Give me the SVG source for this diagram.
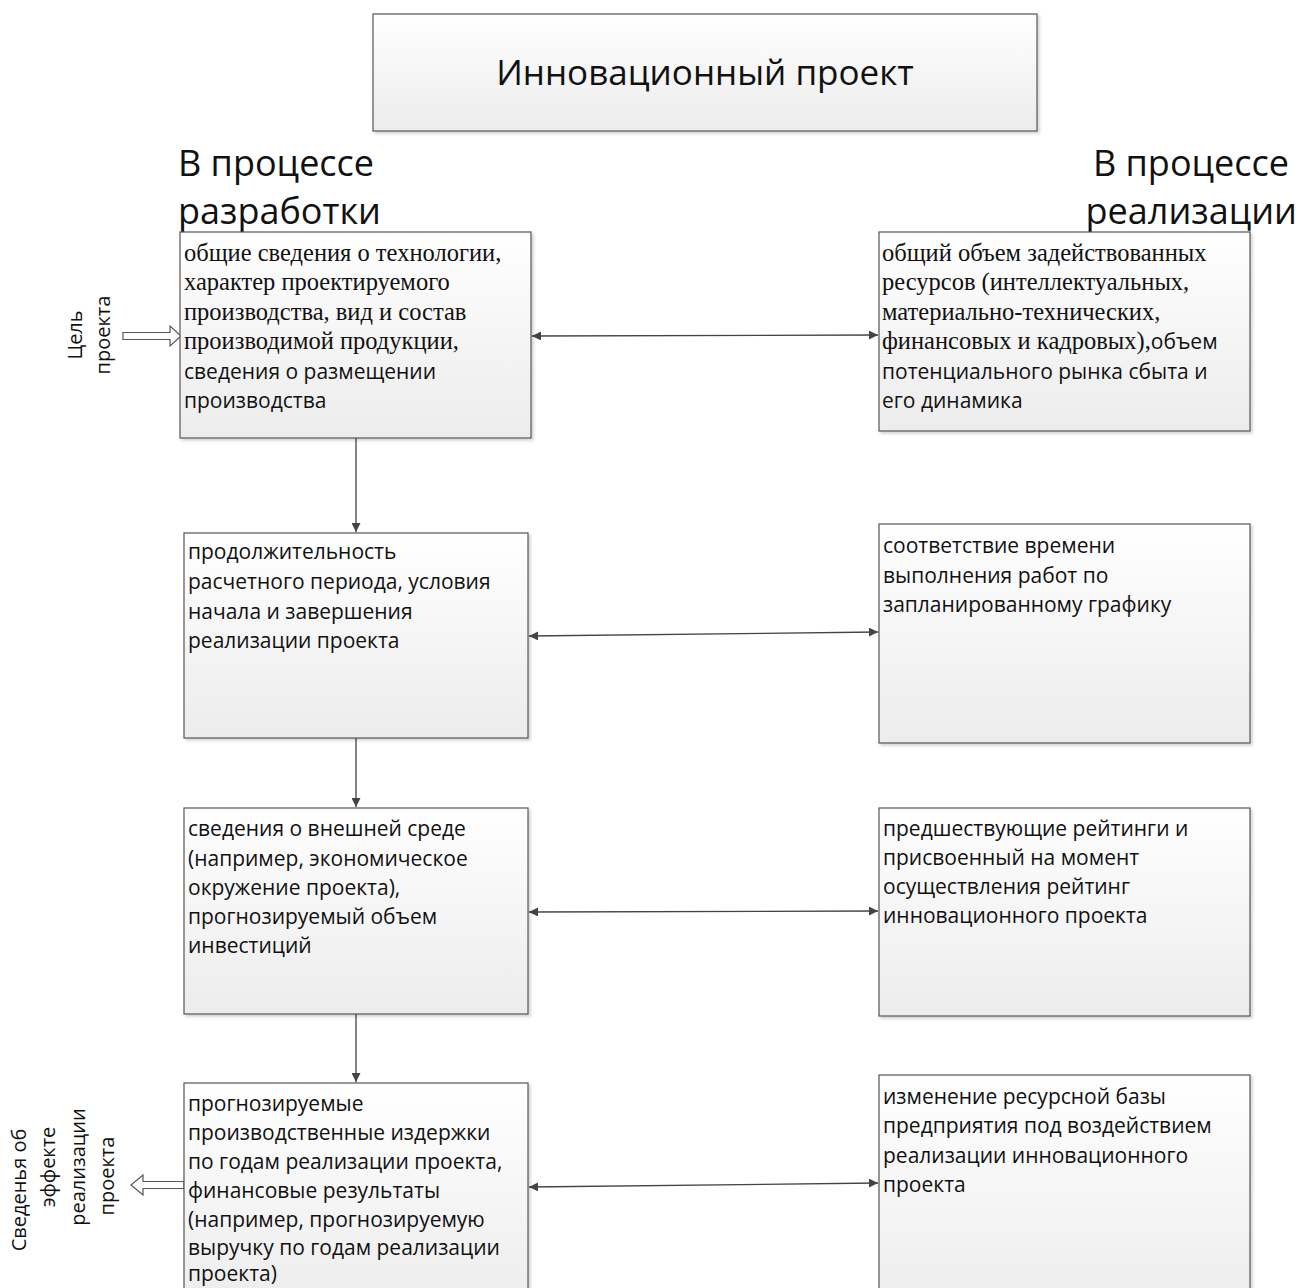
<svg xmlns="http://www.w3.org/2000/svg" width="1301" height="1288" viewBox="0 0 1301 1288">
<style>
.box{fill:url(#g);stroke:#555;stroke-width:1.2;filter:url(#sh)}
.t{font-family:"Open Sans","Noto Sans","DejaVu Sans",sans-serif;font-size:21px;fill:#111}
.v{font-family:"Open Sans","Noto Sans","DejaVu Sans",sans-serif;font-size:20px;fill:#111}
.s{font-family:"Liberation Serif","Times New Roman",serif;font-size:24.5px;fill:#111}
.h{font-family:"Open Sans","Noto Sans","DejaVu Sans",sans-serif;font-size:36px;fill:#111}
.c{stroke:#444;stroke-width:1.3;fill:none}
.hol{fill:#fff;stroke:#555;stroke-width:1.2}
</style>
<defs>
<linearGradient id="g" x1="0" y1="0" x2="0" y2="1">
<stop offset="0" stop-color="#ffffff"/>
<stop offset="1" stop-color="#ececec"/>
</linearGradient>
<filter id="sh" x="-5%" y="-5%" width="110%" height="110%">
<feDropShadow dx="2" dy="2" stdDeviation="1.5" flood-color="#000" flood-opacity="0.18"/>
</filter>
<marker id="ah" viewBox="0 0 10 10" refX="10" refY="5" markerWidth="9" markerHeight="9" markerUnits="userSpaceOnUse" orient="auto-start-reverse">
<path d="M0,0 L10,5 L0,10 z" fill="#444"/>
</marker>
</defs>
<rect width="1301" height="1288" fill="#fff"/>

<g id="title">
<rect class="box" x="373" y="14" width="664" height="117"/>
<text class="h" x="705" y="85" text-anchor="middle" style="font-size:35px">Инновационный проект</text>
</g>

<g id="heading-dev">
<text class="h" x="178" y="176">В процессе</text>
<text class="h" x="178" y="224">разработки</text>
</g>
<g id="heading-impl">
<text class="h" x="1289" y="176" text-anchor="end">В процессе</text>
<text class="h" x="1297" y="224" text-anchor="end">реализации</text>
</g>

<g id="connectors">
<line class="c" x1="356" y1="438" x2="356" y2="532" marker-end="url(#ah)"/>
<line class="c" x1="356" y1="738" x2="356" y2="807" marker-end="url(#ah)"/>
<line class="c" x1="356" y1="1014" x2="356" y2="1082" marker-end="url(#ah)"/>
<line class="c" x1="532" y1="336" x2="878" y2="335" marker-start="url(#ah)" marker-end="url(#ah)"/>
<line class="c" x1="529" y1="636" x2="878" y2="632" marker-start="url(#ah)" marker-end="url(#ah)"/>
<line class="c" x1="529" y1="912" x2="878" y2="911" marker-start="url(#ah)" marker-end="url(#ah)"/>
<line class="c" x1="529" y1="1187" x2="878" y2="1183" marker-start="url(#ah)" marker-end="url(#ah)"/>
<polygon class="hol" points="123,332.5 170,332.5 170,326 181,336 170,346 170,339.5 123,339.5"/>
<polygon class="hol" points="184,1181.5 143,1181.5 143,1175 131,1185 143,1195 143,1188.5 184,1188.5"/>
</g>

<g id="goal-label">
<text class="v" transform="translate(82,335) rotate(-90)" text-anchor="middle">Цель</text>
<text class="v" transform="translate(110,335) rotate(-90)" text-anchor="middle">проекта</text>
</g>

<g id="effect-label">
<text class="v" transform="translate(26,1190) rotate(-90)" text-anchor="middle">Сведенья об</text>
<text class="v" transform="translate(55,1167) rotate(-90)" text-anchor="middle">эффекте</text>
<text class="v" transform="translate(85,1167) rotate(-90)" text-anchor="middle">реализации</text>
<text class="v" transform="translate(114,1176) rotate(-90)" text-anchor="middle">проекта</text>
</g>

<g id="dev1">
<rect class="box" x="180" y="232" width="351" height="206"/>
<text class="s" x="184" y="261">общие сведения о технологии,</text>
<text class="s" x="184" y="290">характер проектируемого</text>
<text class="s" x="184" y="320">производства, вид и состав</text>
<text class="s" x="184" y="349">производимой продукции,</text>
<text class="t" x="184" y="379">сведения о размещении</text>
<text class="t" x="184" y="408">производства</text>
</g>

<g id="impl1">
<rect class="box" x="879" y="232" width="371" height="199"/>
<text class="s" x="882" y="261">общий объем задействованных</text>
<text class="s" x="882" y="290">ресурсов (интеллектуальных,</text>
<text class="s" x="882" y="320">материально-технических,</text>
<text x="882" y="349"><tspan class="s">финансовых и кадровых),</tspan><tspan class="t">объем</tspan></text>
<text class="t" x="882" y="379">потенциального рынка сбыта и</text>
<text class="t" x="882" y="408">его динамика</text>
</g>

<g id="dev2">
<rect class="box" x="184" y="533" width="344" height="205"/>
<text class="t" x="188" y="559">продолжительность</text>
<text class="t" x="188" y="589">расчетного периода, условия</text>
<text class="t" x="188" y="619">начала и завершения</text>
<text class="t" x="188" y="648">реализации проекта</text>
</g>

<g id="impl2">
<rect class="box" x="879" y="524" width="371" height="219"/>
<text class="t" x="883" y="553">соответствие времени</text>
<text class="t" x="883" y="583">выполнения работ по</text>
<text class="t" x="883" y="612">запланированному графику</text>
</g>

<g id="dev3">
<rect class="box" x="184" y="808" width="344" height="206"/>
<text class="t" x="188" y="836">сведения о внешней среде</text>
<text class="t" x="188" y="866">(например, экономическое</text>
<text class="t" x="188" y="895">окружение проекта),</text>
<text class="t" x="188" y="924">прогнозируемый объем</text>
<text class="t" x="188" y="953">инвестиций</text>
</g>

<g id="impl3">
<rect class="box" x="879" y="808" width="371" height="208"/>
<text class="t" x="883" y="836">предшествующие рейтинги и</text>
<text class="t" x="883" y="865">присвоенный на момент</text>
<text class="t" x="883" y="894">осуществления рейтинг</text>
<text class="t" x="883" y="923">инновационного проекта</text>
</g>

<g id="dev4">
<rect class="box" x="184" y="1083" width="344" height="230"/>
<text class="t" x="188" y="1111">прогнозируемые</text>
<text class="t" x="188" y="1140">производственные издержки</text>
<text class="t" x="188" y="1169">по годам реализации проекта,</text>
<text class="t" x="188" y="1198">финансовые результаты</text>
<text class="t" x="188" y="1227">(например, прогнозируемую</text>
<text class="t" x="188" y="1255">выручку по годам реализации</text>
<text class="t" x="188" y="1281">проекта)</text>
</g>

<g id="impl4">
<rect class="box" x="879" y="1075" width="371" height="240"/>
<text class="t" x="883" y="1104">изменение ресурсной базы</text>
<text class="t" x="883" y="1133">предприятия под воздействием</text>
<text class="t" x="883" y="1163">реализации инновационного</text>
<text class="t" x="883" y="1192">проекта</text>
</g>
</svg>
